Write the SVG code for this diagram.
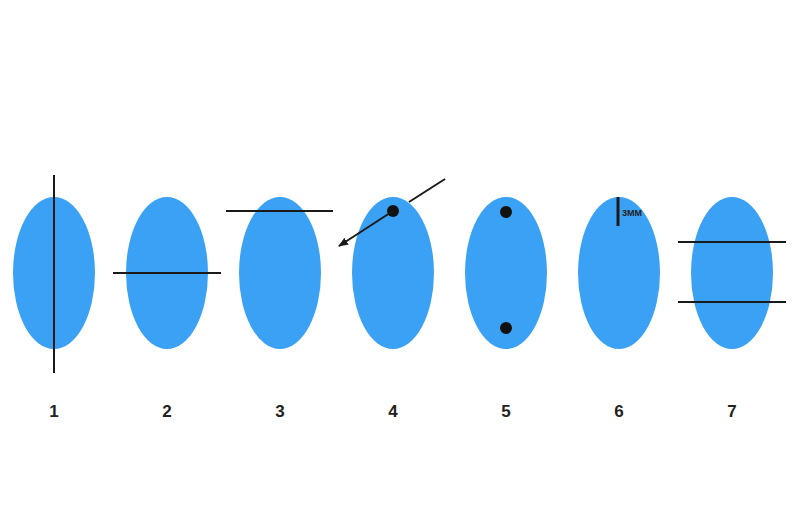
<svg xmlns="http://www.w3.org/2000/svg" width="794" height="529" viewBox="0 0 794 529">
<defs>
<style>
.e{fill:#3ba1f5}
.l{stroke:#1a1a1a;stroke-width:2;fill:none}
.n{font-family:"Liberation Sans",Arial,sans-serif;font-weight:bold;font-size:17px;fill:#222;text-anchor:middle}
.d{fill:#111}
</style>
<marker id="ah" viewBox="0 0 10 10" refX="9" refY="5" markerWidth="5" markerHeight="5" orient="auto"><path d="M0,1 L10,5 L0,9 z" fill="#1a1a1a"/></marker>
</defs>
<rect width="794" height="529" fill="#fff"/>
<g id="n1"><ellipse class="e" cx="54" cy="273" rx="41" ry="76"/><text class="n" x="54" y="417">1</text></g>
<g id="n2"><ellipse class="e" cx="167" cy="273" rx="41" ry="76"/><text class="n" x="167" y="417">2</text></g>
<g id="n3"><ellipse class="e" cx="280" cy="273" rx="41" ry="76"/><text class="n" x="280" y="417">3</text></g>
<g id="n4"><ellipse class="e" cx="393" cy="273" rx="41" ry="76"/><circle class="d" cx="393" cy="211" r="6"/><text class="n" x="393" y="417">4</text></g>
<g id="n5"><ellipse class="e" cx="506" cy="273" rx="41" ry="76"/><circle class="d" cx="506" cy="212" r="6"/><circle class="d" cx="506" cy="328" r="6"/><text class="n" x="506" y="417">5</text></g>
<g id="n6"><ellipse class="e" cx="619" cy="273" rx="41" ry="76"/><line class="l" x1="618" y1="197" x2="618" y2="226" style="stroke-width:3"/><text x="622" y="216" font-family="Liberation Sans,Arial,sans-serif" font-weight="bold" font-size="9" fill="#222">3MM</text><text class="n" x="619" y="417">6</text></g>
<g id="n7"><ellipse class="e" cx="732" cy="273" rx="41" ry="76"/><text class="n" x="732" y="417">7</text></g>
<g id="connectors">
<line class="l" x1="54" y1="175" x2="54" y2="373"/>
<line class="l" x1="113" y1="273" x2="221" y2="273"/>
<line class="l" x1="226" y1="211" x2="333" y2="211"/>
<line class="l" x1="445" y1="179" x2="409" y2="202"/>
<line class="l" x1="393" y1="211" x2="339" y2="246" marker-end="url(#ah)"/>
<line class="l" x1="678" y1="242" x2="786" y2="242"/>
<line class="l" x1="678" y1="302" x2="786" y2="302"/>
</g>
</svg>
